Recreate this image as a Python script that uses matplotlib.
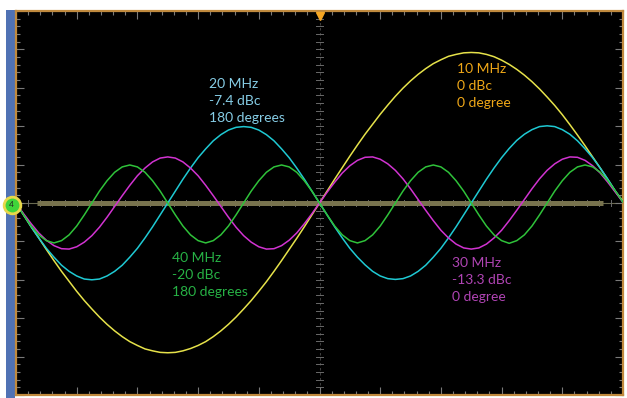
import numpy as np
import matplotlib.pyplot as plt

# samples, 10 ns/div, 81 points across 10 divisions
t_div = np.linspace(0, 10, 81)

yellow_10mhz = [0.00, -0.31, -0.62, -0.91, -1.21, -1.50, -1.78, -2.04, -2.30, -2.54, -2.76,
                -2.97, -3.16, -3.33, -3.48, -3.61, -3.71, -3.80, -3.85, -3.89, -3.90,
                -3.89, -3.85, -3.79, -3.71, -3.61, -3.48, -3.33, -3.16, -2.97, -2.76,
                -2.54, -2.30, -2.05, -1.78, -1.50, -1.21, -0.92, -0.62, -0.31, 0.00,
                0.31, 0.62, 0.92, 1.22, 1.51, 1.79, 2.05, 2.31, 2.55, 2.78,
                2.99, 3.18, 3.35, 3.50, 3.63, 3.73, 3.82, 3.87, 3.91, 3.92,
                3.91, 3.87, 3.81, 3.72, 3.61, 3.48, 3.33, 3.16, 2.97, 2.76,
                2.54, 2.30, 2.04, 1.77, 1.49, 1.20, 0.91, 0.61, 0.30, 0.05]

cyan_20mhz = [0.00, -0.31, -0.62, -0.91, -1.18, -1.41, -1.62, -1.78, -1.90, -1.98, -2.00,
              -1.98, -1.90, -1.78, -1.62, -1.41, -1.18, -0.91, -0.62, -0.31, 0.00,
              0.31, 0.62, 0.91, 1.18, 1.41, 1.62, 1.78, 1.90, 1.97, 1.99,
              1.97, 1.90, 1.78, 1.62, 1.41, 1.18, 0.91, 0.62, 0.31, 0.00,
              -0.31, -0.62, -0.91, -1.18, -1.41, -1.61, -1.78, -1.90, -1.97, -1.99,
              -1.97, -1.90, -1.78, -1.62, -1.41, -1.18, -0.91, -0.62, -0.31, 0.00,
              0.31, 0.62, 0.91, 1.18, 1.42, 1.63, 1.79, 1.91, 1.99, 2.01,
              1.99, 1.91, 1.79, 1.62, 1.41, 1.18, 0.91, 0.62, 0.31, 0.03]

magenta_30mhz = [0.00, -0.28, -0.54, -0.78, -0.97, -1.11, -1.19, -1.20, -1.14, -1.02, -0.85,
                 -0.63, -0.37, -0.09, 0.19, 0.46, 0.71, 0.91, 1.07, 1.17, 1.20,
                 1.17, 1.07, 0.91, 0.71, 0.46, 0.19, -0.09, -0.37, -0.63, -0.85,
                 -1.02, -1.14, -1.20, -1.19, -1.11, -0.97, -0.78, -0.54, -0.28, 0.00,
                 0.28, 0.54, 0.78, 0.97, 1.11, 1.19, 1.20, 1.14, 1.02, 0.85,
                 0.63, 0.37, 0.09, -0.19, -0.46, -0.71, -0.91, -1.07, -1.17, -1.20,
                 -1.17, -1.07, -0.91, -0.71, -0.46, -0.19, 0.09, 0.37, 0.63, 0.85,
                 1.02, 1.14, 1.20, 1.19, 1.11, 0.97, 0.78, 0.54, 0.28, 0.02]

green_40mhz = [0.00, -0.31, -0.60, -0.83, -0.98, -1.04, -0.98, -0.83, -0.60, -0.31, 0.00,
               0.31, 0.58, 0.80, 0.94, 0.99, 0.94, 0.80, 0.58, 0.31, 0.00,
               -0.31, -0.60, -0.83, -0.98, -1.04, -0.98, -0.83, -0.60, -0.31, 0.00,
               0.31, 0.58, 0.80, 0.94, 0.99, 0.94, 0.80, 0.58, 0.31, 0.00,
               -0.31, -0.60, -0.83, -0.98, -1.04, -0.98, -0.83, -0.60, -0.31, 0.00,
               0.31, 0.58, 0.80, 0.94, 0.99, 0.94, 0.80, 0.58, 0.31, 0.00,
               -0.31, -0.60, -0.83, -0.98, -1.05, -0.98, -0.83, -0.60, -0.31, 0.00,
               0.31, 0.58, 0.80, 0.94, 0.99, 0.94, 0.80, 0.58, 0.31, 0.02]

labels = ["10 MHz\n0 dBc\n0 degree",
          "20 MHz\n-7.4 dBc\n180 degrees",
          "30 MHz\n-13.3 dBc\n0 degree",
          "40 MHz\n-20 dBc\n180 degrees"]

plt.rcParams['font.family'] = ['Lato', 'DejaVu Sans']

fig = plt.figure(figsize=(6.27, 3.98), dpi=100)
fig.patch.set_facecolor('white')

# blue side strip of the scope window
strip = fig.add_axes([6/627, 0, 9/627, 388/398])
strip.set_facecolor('#5072b4')
strip.set_xticks([])
strip.set_yticks([])
for s in strip.spines.values():
    s.set_visible(False)

ax = fig.add_axes([16/627, 3/398, 607/627, 384/398])
ax.set_facecolor('black')
ax.set_xlim(0, 10)
ax.set_ylim(-5, 5)
for s in ax.spines.values():
    s.set_color('#c08a3e')
    s.set_linewidth(1.6)

# ticks on the frame
ax.set_xticks(np.arange(0, 10.01, 1))
ax.set_yticks(np.arange(-5, 5.01, 1))
ax.set_xticks(np.arange(0, 10.01, 0.2), minor=True)
ax.set_yticks(np.arange(-5, 5.01, 0.2), minor=True)
ax.tick_params(which='both', direction='in', color='#7a7a7a', top=True, right=True,
               labelbottom=False, labelleft=False, width=0.8)
ax.tick_params(which='major', length=6)
ax.tick_params(which='minor', length=3)

# dotted graticule
minor = np.arange(0, 10.01, 0.2)
minor_y = np.arange(-5, 5.01, 0.2)
for gx in [1, 2, 3, 4, 6, 7, 8, 9]:
    ax.scatter(np.full(len(minor_y), gx), minor_y, s=0.45, color='#4c4c4c', marker='s', lw=0, zorder=1)
for gy in [-4, -3, -2, -1, 1, 2, 3, 4]:
    ax.scatter(minor, np.full(len(minor), gy), s=0.45, color='#4c4c4c', marker='s', lw=0, zorder=1)

# centre cross with ticks
ax.axvline(5, color='#4a4a4a', lw=0.6, ls=(0, (3, 3)), zorder=1)
ax.axhline(0, color='#6a6a50', lw=0.8, zorder=1)
for yy in minor_y:
    ax.plot([4.95, 5.05], [yy, yy], color='#6a6a6a', lw=0.7, zorder=1)
for xx in minor:
    ax.plot([xx, xx], [-0.07, 0.07], color='#6a6a6a', lw=0.7, zorder=1)

# reference level bar
ax.plot([0.35, 9.67], [0, 0], color='#78734e', lw=3.6, solid_capstyle='butt', zorder=2)

# traces
ax.plot(t_div, yellow_10mhz, color='#e6e24a', lw=1.1, zorder=3)
ax.plot(t_div, cyan_20mhz, color='#1fc9d3', lw=1.1, zorder=3)
ax.plot(t_div, magenta_30mhz, color='#d133d1', lw=1.1, zorder=3)
ax.plot(t_div, green_40mhz, color='#2fc23a', lw=1.1, zorder=3)

# annotations
txt = dict(fontsize=10, va='center', ha='left', linespacing=1.5, zorder=8)
ax.text(7.27, 3.05, labels[0], color='#f0a818', **txt)
ax.text(3.18, 2.66, labels[1], color='#86cde6', **txt)
ax.text(7.18, -2.0, labels[2], color='#b044b4', **txt)
ax.text(2.57, -1.875, labels[3], color='#27b245', **txt)

# trigger marker and channel marker
ax.plot([5], [4.87], marker='v', color='#f5a623', markersize=6, clip_on=False, zorder=5)
ax.plot([-0.07], [-0.05], marker='o', markersize=12, markerfacecolor='#3fd43a',
        markeredgecolor='#e8d84a', markeredgewidth=2, clip_on=False, zorder=6)
ax.text(-0.07, -0.05, "4", fontsize=6, color='#222222', ha='center', va='center', zorder=7, clip_on=False)

fig.savefig("out.png", dpi=100, facecolor='white')
